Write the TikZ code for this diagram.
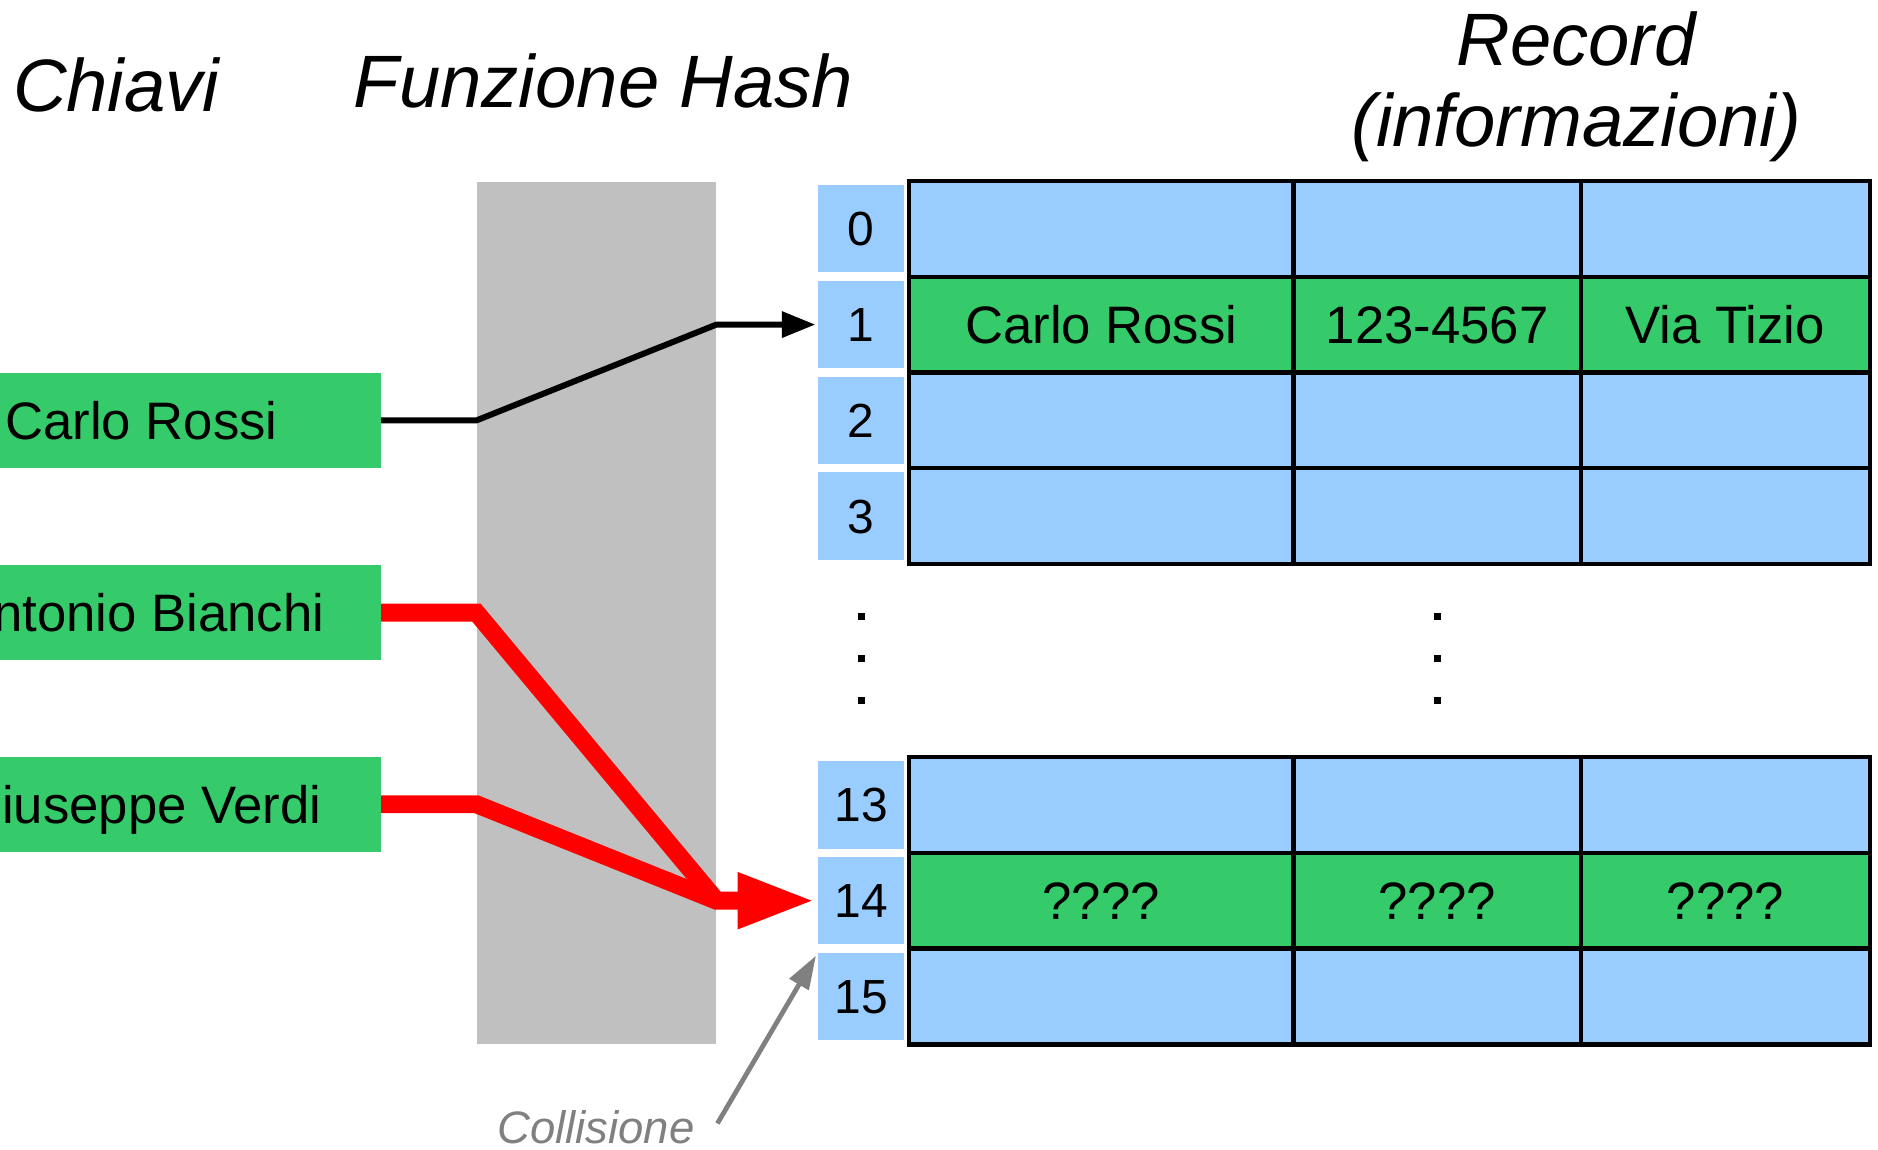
\documentclass[tikz,border=0pt]{standalone}
\usepackage{fontspec}
\setmainfont{Liberation Sans}
\usetikzlibrary{arrows.meta,calc}
\definecolor{cellblue}{RGB}{153,204,255}
\definecolor{keygreen}{RGB}{54,203,106}
\definecolor{hashgray}{RGB}{192,192,192}
\definecolor{collgray}{RGB}{128,128,128}
\begin{document}
\begin{tikzpicture}[x=1pt,y=-1pt,
  title/.style={font=\fontsize{62}{67}\selectfont\itshape, inner sep=0pt, anchor=base},
  keybox/.style={fill=keygreen, minimum width=400pt, minimum height=79pt, inner sep=0pt,
    text height=31.5pt, text depth=0pt, font=\fontsize{44}{50}\selectfont},
  idxbox/.style={fill=cellblue, minimum width=72pt, minimum height=73pt, inner sep=0pt,
    text height=28.6pt, text depth=0pt, font=\fontsize{40}{44}\selectfont},
  cell/.style={draw=black, line width=3.5pt, minimum height=80pt, inner sep=0pt,
    text height=31.5pt, text depth=0pt, font=\fontsize{44}{50}\selectfont},
  cellA/.style={cell, minimum width=321pt},
  cellB/.style={cell, minimum width=240pt},
  cellC/.style={cell, minimum width=241pt},
  emptycell/.style={fill=cellblue},
  fullcell/.style={fill=keygreen},
  dotsq/.style={fill=black, minimum width=6pt, minimum height=6pt, inner sep=0pt},
  blk/.style={draw=black, line width=5pt, -{Triangle[length=28pt,width=21pt]}, shorten >=2pt},
  redl/.style={draw=red, line width=15pt},
  coll/.style={draw=collgray, line width=4pt, -{Triangle[length=28pt,width=18pt]}, shorten >=3pt}
]
\useasboundingbox (0,0) rectangle (1568,960);
\clip (0,0) rectangle (1568,960);

% titles
\node[title] (tkeys) at (97,93) {Chiavi};
\node[title] (thash) at (504,90) {Funzione Hash};
\node[title] (trec) at (1316,55) {Record};
\node[title] (tinfo) at (1316,122) {(informazioni)};

% hash function band
\node[fill=hashgray, minimum width=200pt, minimum height=720pt, inner sep=0pt] (hash) at (498,512) {};

% keys
\node[keybox] (k1) at (118,351) {Carlo Rossi};
\node[keybox] (k2) at (118,511.5) {Antonio Bianchi};
\node[keybox] (k3) at (118,671.5) {Giuseppe Verdi};

% index cells
\node[idxbox] (i0) at (719,191) {0};
\node[idxbox] (i1) at (719,271) {1};
\node[idxbox] (i2) at (719,351) {2};
\node[idxbox] (i3) at (719,431) {3};
\node[idxbox] (i13) at (719,672) {13};
\node[idxbox] (i14) at (719,752) {14};
\node[idxbox] (i15) at (719,832) {15};

% table top
\node[cellA, emptycell] (a0) at (919.5,191) {};
\node[cellB, emptycell] (b0) at (1200,191) {};
\node[cellC, emptycell] (c0) at (1440.5,191) {};
\node[cellA, fullcell] (a1) at (919.5,271) {Carlo Rossi};
\node[cellB, fullcell] (b1) at (1200,271) {123-4567};
\node[cellC, fullcell] (c1) at (1440.5,271) {Via Tizio};
\node[cellA, emptycell] (a2) at (919.5,351) {};
\node[cellB, emptycell] (b2) at (1200,351) {};
\node[cellC, emptycell] (c2) at (1440.5,351) {};
\node[cellA, emptycell] (a3) at (919.5,431) {};
\node[cellB, emptycell] (b3) at (1200,431) {};
\node[cellC, emptycell] (c3) at (1440.5,431) {};

% table bottom
\node[cellA, emptycell] (a13) at (919.5,672) {};
\node[cellB, emptycell] (b13) at (1200,672) {};
\node[cellC, emptycell] (c13) at (1440.5,672) {};
\node[cellA, fullcell] (a14) at (919.5,752) {????};
\node[cellB, fullcell] (b14) at (1200,752) {????};
\node[cellC, fullcell] (c14) at (1440.5,752) {????};
\node[cellA, emptycell] (a15) at (919.5,832) {};
\node[cellB, emptycell] (b15) at (1200,832) {};
\node[cellC, emptycell] (c15) at (1440.5,832) {};

% vertical ellipsis dots
\node[dotsq] (d1) at (719,515) {};
\node[dotsq] (d2) at (719,550) {};
\node[dotsq] (d3) at (719,585) {};
\node[dotsq] (e1) at (1200,515) {};
\node[dotsq] (e2) at (1200,550) {};
\node[dotsq] (e3) at (1200,585) {};

% connectors
\draw[blk] (k1.east) -- (hash.west |- k1.east) -- (hash.east |- i1.west) -- (i1.west);

\coordinate (conv) at (hash.east |- i14.west);
\draw[redl] (k2.east) -- (hash.west |- k2.east) -- (conv);
\draw[redl, -{Triangle[length=65pt,width=43pt]}, shorten >=2pt]
  (k3.east) -- (hash.west |- k3.east) -- (conv) -- (i14.west);

% collision label
\node[font=\fontsize{38}{42}\selectfont\itshape, text=collgray, inner sep=0pt, anchor=base] (collt) at (497.5,955) {Collisione};
\coordinate (cstart) at (599,938);
\draw[coll] (cstart) -- (i15.north west);
\end{tikzpicture}
\end{document}
